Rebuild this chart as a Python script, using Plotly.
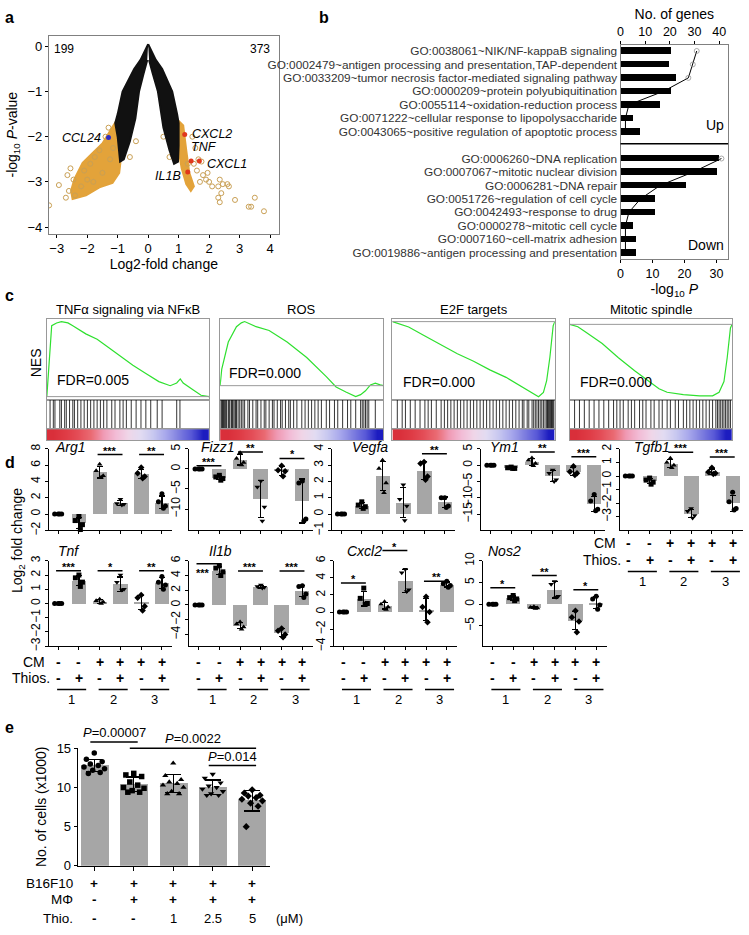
import numpy as np
import plotly.graph_objects as go

W, H = 749, 935
FONT = "Liberation Sans, Arial, sans-serif"

# ---------------- data: a (volcano) ----------------
black_left_x = [0.0, -0.25, -0.46, -0.84, -1.0, -1.08, -1.0, -0.95, -0.92, -0.8, -0.6, -0.42, -0.3, -0.15, -0.03]
black_left_y = [0.05, -0.3, -0.5, -1.0, -1.5, -1.7, -2.0, -2.3, -2.55, -2.5, -2.1, -1.6, -1.0, -0.6, -0.3]
black_right_x = [0.0, 0.25, 0.46, 0.79, 0.95, 1.0, 1.0, 0.98, 0.85, 0.7, 0.5, 0.32, 0.15, 0.03]
black_right_y = [0.05, -0.3, -0.5, -1.0, -1.5, -1.7, -2.2, -2.55, -2.6, -2.3, -1.8, -1.0, -0.6, -0.3]
orange_left_x = [-1.0, -1.5, -1.82, -2.15, -2.42, -2.53, -2.48, -2.04, -1.6, -1.17, -0.95, -0.9, -0.97]
orange_left_y = [-1.6, -2.15, -2.36, -2.58, -2.94, -3.2, -3.38, -3.3, -3.12, -3.02, -2.8, -2.51, -2.07]
orange_right_x = [0.95, 1.15, 1.25, 1.35, 1.5, 1.4, 1.25, 1.1, 1.0, 0.95]
orange_right_y = [-1.62, -1.75, -2.3, -2.8, -3.1, -3.2, -3.05, -2.7, -2.3, -2.0]
sparse_x = [-3.25, -2.93, -2.65, -2.55, -2.45, -2.6, -2.7, -2.4, -2.2, -2.0, -1.9, -1.75, -1.6, -1.4,
            -1.25, -1.5, -1.8, -2.1, -1.3, -1.15, -0.6, -0.4,
            1.45, 1.55, 1.65, 1.75, 1.5, 1.6, 1.8, 1.9, 2.0, 1.95, 2.1, 2.3, 2.35, 2.45, 2.6, 2.65,
            2.3, 2.35, 2.4, 2.85, 3.3, 3.38, 3.5, 3.8, 1.7, 1.3, 0.8, 0.5, 0.7]
sparse_y = [-3.52, -3.07, -2.85, -2.7, -2.95, -3.2, -3.35, -3.3, -3.1, -2.95, -2.6, -2.45, -2.3, -2.0,
            -2.5, -2.8, -3.0, -2.75, -1.8, -2.25, -2.45, -2.1,
            -2.0, -2.25, -2.5, -2.55, -2.6, -2.75, -2.85, -2.95, -3.0, -2.8, -3.1, -3.1, -2.95, -3.05, -3.05, -3.1,
            -3.35, -3.45, -3.25, -3.4, -3.55, -3.55, -3.35, -3.65, -3.0, -2.6, -2.4, -2.0, -2.45]
hl_names = ["CCL24", "CXCL2", "TNF", "CXCL1", "IL1B"]
hl_x = [-1.30, 1.20, 1.41, 1.68, 1.30]
hl_y = [-2.02, -1.95, -2.54, -2.54, -2.78]
hl_col = ["#2c2cc8", "#e0381c", "#e0381c", "#e0381c", "#e0381c"]

# ---------------- data: b (GO terms) ----------------
go_up = ["GO:0038061~NIK/NF-kappaB signaling",
         "GO:0002479~antigen processing and presentation,TAP-dependent",
         "GO:0033209~tumor necrosis factor-mediated signaling pathway",
         "GO:0000209~protein polyubiquitination",
         "GO:0055114~oxidation-reduction process",
         "GO:0071222~cellular response to lipopolysaccharide",
         "GO:0043065~positive regulation of apoptotic process"]
go_down = ["GO:0006260~DNA replication",
           "GO:0007067~mitotic nuclear division",
           "GO:0006281~DNA repair",
           "GO:0051726~regulation of cell cycle",
           "GO:0042493~response to drug",
           "GO:0000278~mitotic cell cycle",
           "GO:0007160~cell-matrix adhesion",
           "GO:0019886~antigen processing and presentation"]
logp_up = [15.7, 15.0, 17.3, 15.7, 12.1, 3.8, 6.0]
logp_down = [30.7, 30.0, 20.4, 10.5, 10.5, 3.8, 4.6, 4.6]
genes_up = [30.9, 29.3, 27.5, 17.4, 3.4, 2.0, 2.0]
genes_down = [40.9, 29.5, 16.1, 8.1, 3.4, 2.0, 2.0, 2.0]

# ---------------- data: c (GSEA) ----------------
gsea_titles = ["TNFα signaling via NFκB", "ROS", "E2F targets", "Mitotic spindle"]
gsea_fdr = ["FDR=0.005", "FDR=0.000", "FDR=0.000", "FDR=0.000"]
es1_x = [0, 0.01, 0.03, 0.06, 0.09, 0.13, 0.16, 0.24, 0.31, 0.38, 0.46, 0.53, 0.61, 0.69, 0.76, 0.8, 0.822, 0.84, 0.9, 0.95, 1.0]
es1_y = [0, 0.17, 0.52, 0.54, 0.55, 0.54, 0.52, 0.46, 0.42, 0.36, 0.29, 0.23, 0.17, 0.11, 0.08, 0.1, 0.13, 0.1, 0.05, 0.01, 0]
es2_x = [0, 0.01, 0.05, 0.1, 0.13, 0.15, 0.22, 0.3, 0.41, 0.53, 0.65, 0.71, 0.77, 0.83, 0.86, 0.89, 0.92, 0.95, 0.98, 1.0]
es2_y = [0, 0.13, 0.34, 0.46, 0.49, 0.5, 0.46, 0.43, 0.34, 0.22, 0.07, -0.01, -0.05, -0.085, -0.07, -0.04, 0.006, 0.02, 0.006, 0]
es3_x = [0, 0.1, 0.2, 0.3, 0.4, 0.5, 0.6, 0.7, 0.8, 0.85, 0.87, 0.9, 0.93, 0.95, 0.97, 0.99, 1.0]
es3_y = [0, -0.05, -0.135, -0.22, -0.3, -0.37, -0.45, -0.52, -0.61, -0.66, -0.68, -0.7, -0.66, -0.55, -0.33, -0.04, 0]
es4_x = [0, 0.05, 0.1, 0.2, 0.3, 0.4, 0.5, 0.55, 0.6, 0.7, 0.8, 0.88, 0.92, 0.95, 0.97, 0.99, 1.0]
es4_y = [0, -0.02, -0.066, -0.16, -0.28, -0.39, -0.49, -0.54, -0.57, -0.59, -0.6, -0.6, -0.57, -0.48, -0.28, -0.03, 0]
hits1 = [0.02, 0.04, 0.05, 0.08, 0.09, 0.11, 0.12, 0.14, 0.16, 0.17, 0.19, 0.21, 0.23, 0.25, 0.27, 0.29, 0.31,
         0.33, 0.35, 0.37, 0.4, 0.42, 0.45, 0.47, 0.49, 0.52, 0.55, 0.58, 0.61, 0.64, 0.68, 0.71, 0.8, 0.82]
hits2 = [0.005, 0.01, 0.015, 0.02, 0.025, 0.03, 0.035, 0.04, 0.05, 0.055, 0.06, 0.07, 0.075, 0.08, 0.09, 0.095,
         0.1, 0.11, 0.12, 0.13, 0.14, 0.15, 0.17, 0.18, 0.2, 0.22, 0.23, 0.25, 0.27, 0.28, 0.3, 0.32, 0.33, 0.35,
         0.37, 0.38, 0.4, 0.42, 0.43, 0.45, 0.47, 0.5, 0.52, 0.54, 0.56, 0.58, 0.6, 0.62, 0.65, 0.67, 0.7, 0.72,
         0.75, 0.78, 0.8, 0.83, 0.86, 0.87, 0.88, 0.89, 0.9, 0.91, 0.95]
hits3 = [0.03, 0.06, 0.08, 0.11, 0.14, 0.17, 0.2, 0.22, 0.24, 0.27, 0.3, 0.32, 0.34, 0.36, 0.38, 0.4, 0.42, 0.44,
         0.46, 0.48, 0.5, 0.52, 0.54, 0.56, 0.58, 0.6, 0.62, 0.64, 0.66, 0.68, 0.7, 0.72, 0.74, 0.76, 0.78, 0.8,
         0.81, 0.83, 0.84, 0.86, 0.87, 0.88, 0.89, 0.9, 0.91, 0.92, 0.93, 0.94, 0.95, 0.955, 0.96, 0.965, 0.97,
         0.975, 0.98, 0.985, 0.99, 0.995]
hits4 = [0.03, 0.06, 0.09, 0.12, 0.15, 0.18, 0.21, 0.24, 0.27, 0.29, 0.31, 0.33, 0.36, 0.38, 0.4, 0.43, 0.45,
         0.47, 0.5, 0.52, 0.55, 0.57, 0.6, 0.62, 0.65, 0.67, 0.7, 0.72, 0.74, 0.76, 0.78, 0.8, 0.82, 0.84, 0.86,
         0.88, 0.9, 0.91, 0.92, 0.93, 0.94, 0.95, 0.96, 0.97, 0.98, 0.99]
rank_colors = ["#d92f3a", "#df3b45", "#e44e58", "#ea6a72", "#f09ab4", "#f2bcd6", "#f0d6e8",
               "#e2dcf2", "#c8c8f0", "#a8a8ec", "#8080e0", "#5a5ad8", "#1c1cc0"]

# ---------------- data: d (qPCR, 4 replicates x 6 conditions) ----------------
arg1 = [[0, 0, 0, 0], [-0.3, -0.8, -1.3, -1.9], [6.1, 5.3, 4.7, 4.5], [1.8, 1.3, 1.2, 1.1], [5.7, 5.0, 4.6, 4.4], [2.5, 1.5, 1.0, 0.7]]
fizz1 = [[0, 0, 0, 0], [-1.6, -2.0, -2.4, -2.8], [4.0, 2.6, 1.6, 1.0], [-3.0, -4.5, -9.5, -13.0], [0.8, -0.3, -0.6, -1.8], [-3.0, -3.5, -12.5, -13.0]]
vegfa = [[0, 0, 0, 0], [0.75, 0.55, 0.45, 0.35], [3.3, 2.8, 1.9, 1.3], [1.8, 0.9, 0.5, -0.4], [3.2, 3.1, 2.3, 2.1], [1.0, 1.0, 0.5, 0.4]]
ym1 = [[0, 0, 0, 0], [-0.6, -0.8, -1.0, -1.0], [2.2, 1.5, 0.5, -0.2], [-1.5, -2.5, -4.5, -5.0], [-0.3, -2.0, -2.5, -3.0], [-9.0, -11.0, -13.5, -14.0]]
tgfb1 = [[0, 0, 0, 0], [-0.15, -0.3, -0.45, -0.6], [1.3, 1.0, 0.8, 0.6], [-2.4, -2.6, -2.9, -3.1], [0.6, 0.3, 0.2, 0.15], [-1.2, -1.9, -2.4, -2.5]]
tnf = [[0, 0, 0, 0], [2.0, 1.8, 1.5, 1.2], [0.3, 0.2, 0.1, 0.0], [2.0, 1.5, 1.0, 0.95], [0.6, 0.4, -0.2, -0.5], [1.9, 1.5, 1.3, 1.0]]
il1b = [[0, 0, 0, 0], [5.3, 5.0, 4.5, 4.0], [-2.3, -2.6, -3.0, -3.3], [2.7, 2.5, 2.4, 2.3], [-3.2, -3.5, -4.0, -4.4], [2.6, 2.5, 1.5, 1.0]]
cxcl2 = [[0, 0, 0, 0], [2.8, 1.6, 1.0, 0.9], [1.2, 0.9, 0.6, 0.3], [5.0, 4.6, 2.6, 2.4], [1.8, 0.6, 0.0, -1.2], [3.6, 3.3, 3.1, 2.9]]
nos2 = [[0, 0, 0, 0], [2.0, 1.5, 1.2, 0.8], [-0.6, -0.8, -0.9, -1.0], [5.2, 4.6, 1.8, 1.6], [-1.5, -3.0, -4.0, -6.5], [1.8, 1.2, -0.2, -1.2]]
# significance brackets: (group a, group b, height, stars)
arg1_sig = [(3, 4, 7.3, "***"), (5, 6, 7.3, "**")]
fizz1_sig = [(1, 2, 0.8, "***"), (3, 4, 4.2, "**"), (5, 6, 2.6, "*")]
vegfa_sig = [(5, 6, 3.7, "**")]
ym1_sig = [(3, 4, 4.0, "**"), (5, 6, 2.6, "***")]
tgfb1_sig = [(3, 4, 1.75, "***"), (5, 6, 1.4, "***")]
tnf_sig = [(1, 2, 2.3, "***"), (3, 4, 2.3, "*"), (5, 6, 2.3, "**")]
il1b_sig = [(1, 2, 5.6, "***"), (3, 4, 4.6, "***"), (5, 6, 4.6, "***")]
cxcl2_sig = [(1, 2, 3.4, "*"), (3, 4, 7.2, "*"), (5, 6, 3.6, "**")]
nos2_sig = [(1, 2, 3.8, "*"), (3, 4, 6.6, "**"), (5, 6, 3.3, "*")]
cm_signs = ["-", "-", "+", "+", "+", "+"]
thios_signs = ["-", "+", "-", "+", "-", "+"]
pair_labels = ["1", "2", "3"]

# ---------------- data: e (cell counts) ----------------
e_pts = [[14.4, 13.6, 13.3, 13.0, 12.8, 12.6, 12.4, 12.2, 11.9, 11.8],
         [11.8, 11.6, 11.4, 10.7, 10.3, 10.0, 9.9, 9.6, 9.4, 9.4],
         [13.1, 11.5, 11.0, 10.7, 10.5, 10.3, 10.0, 9.5, 9.2, 9.2],
         [11.7, 11.2, 10.6, 10.2, 10.0, 9.8, 9.5, 9.2, 9.0, 9.0],
         [9.7, 9.3, 9.0, 8.9, 8.7, 8.5, 8.3, 8.0, 7.6, 5.0]]
e_b16 = ["+", "+", "+", "+", "+"]
e_mphi = ["-", "+", "+", "+", "+"]
e_thio = ["-", "-", "1", "2.5", "5"]
e_pvals = [(1, 2, 15.8, "<i>P</i>=0.00007"), (2, 5, 15.0, "<i>P</i>=0.0022"), (4, 5, 12.8, "<i>P</i>=0.014")]

# =====================================================================
fig = go.Figure()
L = {}
ann = []
shp = []
cnt = [0]


def P(x):
    return x / W


def Q(y):
    return 1 - y / H


def axes(xd, yd, xk, yk):
    cnt[0] += 1
    s = "" if cnt[0] == 1 else str(cnt[0])
    L["xaxis" + s] = dict(domain=[P(xd[0]), P(xd[1])], anchor="y" + s, **xk)
    L["yaxis" + s] = dict(domain=[Q(yd[1]), Q(yd[0])], anchor="x" + s, **yk)
    return "x" + s, "y" + s


def yfrac(v, rows, yr):
    # paper y for a value on a y axis laid out over pixel rows (for brackets drawn above the range)
    top, bot = rows
    return Q(bot - (v - yr[0]) / (yr[1] - yr[0]) * (bot - top))


def st(**kw):
    d = dict(showgrid=False, zeroline=False, showline=True, linecolor="black", linewidth=1,
             ticks="outside", ticklen=3, tickcolor="black",
             tickfont=dict(size=12, family=FONT, color="black"))
    d.update(kw)
    return d


def blank(**kw):
    d = dict(showgrid=False, zeroline=False, showline=True, linecolor="#999999", linewidth=1,
             mirror=True, ticks="", showticklabels=False)
    d.update(kw)
    return d


def txt(x, y, t, size=12, xref="paper", yref="paper", **kw):
    a = dict(x=x, y=y, text=t, xref=xref, yref=yref, showarrow=False, xanchor="center", yanchor="middle",
             font=dict(size=size, family=FONT, color=kw.pop("color", "black")))
    a.update(kw)
    ann.append(a)


# panel letters
for lab, px, py in [("a", 7, 9), ("b", 322, 9), ("c", 7, 292), ("d", 7, 462), ("e", 7, 732)]:
    txt(P(px), Q(py), "<b>%s</b>" % lab, size=16)

# ---------------- a ----------------
xa, ya = axes((46, 277), (27, 229),
              st(range=[-3.26, 4.29], tickvals=list(range(-3, 5)), mirror=True, linecolor="#808080",
                 tickfont=dict(size=13, family=FONT), title=dict(text="Log2-fold change", font=dict(size=14), standoff=2)),
              st(range=[-4.15, 0.24], tickvals=[0, -1, -2, -3, -4], mirror=True, linecolor="#808080",
                 tickfont=dict(size=13, family=FONT),
                 title=dict(text="-log<sub>10</sub> <i>P</i>-value", font=dict(size=14), standoff=6)))
for xs, ys in [(orange_left_x, orange_left_y), (orange_right_x, orange_right_y)]:
    fig.add_trace(go.Scatter(x=xs, y=ys, fill="toself", mode="lines", line=dict(color="#e3a33a", width=2),
                             fillcolor="#e3a33a", xaxis=xa, yaxis=ya, hoverinfo="skip"))
fig.add_trace(go.Scatter(x=sparse_x, y=sparse_y, mode="markers", xaxis=xa, yaxis=ya,
                         marker=dict(symbol="circle-open", size=5, color="#c9a055", line=dict(width=1))))
for xs, ys in [(black_left_x, black_left_y), (black_right_x, black_right_y)]:
    fig.add_trace(go.Scatter(x=xs, y=ys, fill="toself", mode="lines", line=dict(color="#111111", width=2),
                             fillcolor="#111111", xaxis=xa, yaxis=ya, hoverinfo="skip"))
fig.add_trace(go.Scatter(x=hl_x, y=hl_y, mode="markers", xaxis=xa, yaxis=ya,
                         marker=dict(size=5, color=hl_col)))
lab_pos = {"CCL24": ("right", -6, 0), "CXCL2": ("left", 5, 0), "TNF": ("left", -2, 14),
           "CXCL1": ("left", 6, -3), "IL1B": ("right", -5, -4)}
for n, x, y in zip(hl_names, hl_x, hl_y):
    anc, dx, dy = lab_pos[n]
    txt(x, y, "<i>%s</i>" % n, size=12.5, xref=xa, yref=ya, xanchor=anc, xshift=dx, yshift=dy)
txt(-2.75, -0.06, "199", size=12, xref=xa, yref=ya)
txt(3.67, -0.06, "373", size=12, xref=xa, yref=ya)

# ---------------- b ----------------
rows_up = list(range(len(go_up)))
rows_down = [len(go_up) + 1 + i for i in range(len(go_down))]
xb, yb = axes((620, 728), (37, 255),
              st(range=[0, 33.6], tickvals=[0, 10, 20, 30], linecolor="#808080",
                 tickfont=dict(size=12.5, family=FONT),
                 title=dict(text="-log<sub>10</sub> <i>P</i>", font=dict(size=14), standoff=2)),
              st(range=[15.5, -0.42], tickvals=rows_up + rows_down, ticktext=go_up + go_down, ticks="",
                 mirror=True, linecolor="#808080", tickfont=dict(size=11.8, family=FONT, color="#333333")))
cnt[0] += 1
xb_top = "x%d" % cnt[0]
L["xaxis%d" % cnt[0]] = st(overlaying=xb, side="top", anchor=yb, range=[0, 43.6], tickvals=[0, 10, 20, 30, 40],
                           linecolor="#808080", tickfont=dict(size=12.5, family=FONT),
                           title=dict(text="No. of genes", font=dict(size=14), standoff=2))
fig.add_trace(go.Bar(x=logp_up + logp_down, y=rows_up + rows_down, orientation="h", width=0.48,
                     marker=dict(color="black", line=dict(width=0)), xaxis=xb, yaxis=yb))
for gv, pv, rv in [(genes_up, logp_up, rows_up), (genes_down, logp_down, rows_down)]:
    msz = [5 if g / 43.6 > p / 33.6 else 0 for g, p in zip(gv, pv)]
    fig.add_trace(go.Scatter(x=gv, y=rv, mode="lines+markers", xaxis=xb_top, yaxis=yb,
                             line=dict(color="black", width=1),
                             marker=dict(symbol="circle-open", size=msz, color="#888888",
                                         line=dict(width=1, color="#888888"))))
shp.append(dict(type="line", xref=xb + " domain", yref=yb, x0=0, x1=1, y0=6.9, y1=6.9,
                line=dict(color="black", width=1.5)))
txt(33, 5.5, "Up", size=14, xref=xb, yref=yb, xanchor="right")
txt(33, 14.4, "Down", size=14, xref=xb, yref=yb, xanchor="right")

# ---------------- c ----------------
boxes = [(44, 207), (218, 382), (391, 554), (569, 732)]
es_x = [es1_x, es2_x, es3_x, es4_x]
es_y = [es1_y, es2_y, es3_y, es4_y]
hits = [hits1, hits2, hits3, hits4]
es_ranges = [[-0.023, 0.567], [-0.11, 0.518], [-0.729, 0.022], [-0.633, 0.043]]
fdr_pos = [(0.05, 0.25), (0.04, 0.33), (0.05, 0.22), (0.05, 0.22)]
for i, (bx0, bx1) in enumerate(boxes):
    xc, yc = axes((bx0, bx1), (316, 398), blank(range=[0, 1]), blank(range=es_ranges[i]))
    fig.add_trace(go.Scatter(x=es_x[i], y=es_y[i], mode="lines", line=dict(color="#2fe02f", width=1.2),
                             xaxis=xc, yaxis=yc))
    shp.append(dict(type="line", xref=xc + " domain", yref=yc, x0=0, x1=1, y0=0, y1=0,
                    line=dict(color="#999999", width=1)))
    txt(fdr_pos[i][0], fdr_pos[i][1], gsea_fdr[i], size=14, xref=xc + " domain", yref=yc + " domain",
        xanchor="left")
    txt(P((bx0 + bx1) / 2), Q(306), gsea_titles[i], size=13)
    xh, yh = axes((bx0, bx1), (398, 428), blank(range=[0, 1]), blank(range=[0, 1]))
    hx, hy = [], []
    for p in hits[i]:
        hx += [p, p, None]
        hy += [0, 1, None]
    fig.add_trace(go.Scatter(x=hx, y=hy, mode="lines", line=dict(color="black", width=0.8),
                             xaxis=xh, yaxis=yh, hoverinfo="skip"))
    xk, yk = axes((bx0, bx1), (428, 439), blank(range=[-0.5, len(rank_colors) - 0.5]), blank(range=[-0.5, 0.5]))
    nc = len(rank_colors)
    fig.add_trace(go.Heatmap(z=[list(range(nc))], xaxis=xk, yaxis=yk, showscale=False, zsmooth="best",
                             colorscale=[[j / (nc - 1), c] for j, c in enumerate(rank_colors)], hoverinfo="skip"))
txt(P(34), Q(360), "NES", size=14, textangle=-90)

# ---------------- d ----------------
symbols = ["circle", "square", "triangle-up", "triangle-down", "diamond", "circle"]
offs = [0.0, -0.17, 0.17, 0.07]
top_row, bot_row = (448, 531), (562, 649)
charts = [
    ("Arg1", arg1, arg1_sig, [-2, 8], [-2, 0, 2, 4, 6, 8], 46, top_row, 0.03, False),
    ("Fizz1", fizz1, fizz1_sig, [-15.3, 5], [-10, -5, 0, 5], 187, top_row, 0.08, False),
    ("Vegfa", vegfa, vegfa_sig, [-1, 4], [-1, 0, 1, 2, 3, 4], 330, top_row, 0.15, False),
    ("Ym1", ym1, ym1_sig, [-20, 5], [-15, -10, -5, 0, 5], 480, top_row, 0.06, False),
    ("Tgfb1", tgfb1, tgfb1_sig, [-4, 2], [-3, -2, -1, 0, 1, 2], 619, top_row, 0.1, True),
    ("Tnf", tnf, tnf_sig, [-3, 3], [-3, -2, -1, 0, 1, 2, 3], 46, bot_row, 0.06, True),
    ("Il1b", il1b, il1b_sig, [-5.6, 6], [-4, -2, 0, 2, 4, 6], 187, bot_row, 0.145, True),
    ("Cxcl2", cxcl2, cxcl2_sig, [-4, 6], [-4, -2, 0, 2, 4, 6], 332, bot_row, 0.09, True),
    ("Nos2", nos2, nos2_sig, [-9.7, 10], [-10, -5, 0, 5, 10], 482, bot_row, 0.02, True),
]
grp = [1, 2, 3, 4, 5, 6]
for name, data, sig, yr, tv, ax_px, row, tpos, table in charts:
    xd, yd = axes((ax_px, ax_px + 124), row,
                  st(range=[0.55, 6.5], tickvals=grp, showticklabels=False, ticklen=3),
                  st(range=yr, tickvals=tv, tickangle=-90, tickfont=dict(size=12, family=FONT)))
    means = [np.mean(g) for g in data]
    sds = [np.std(g, ddof=1) for g in data]
    fig.add_trace(go.Bar(x=grp, y=means, width=0.7, marker=dict(color="#a6a6a6", line=dict(width=0)),
                         error_y=dict(type="data", array=sds, color="black", thickness=1.2, width=3),
                         xaxis=xd, yaxis=yd))
    for gi, g in enumerate(data):
        fig.add_trace(go.Scatter(x=[grp[gi] + o for o in offs], y=g, mode="markers", xaxis=xd, yaxis=yd,
                                 marker=dict(symbol=symbols[gi], size=5, color="black"), cliponaxis=False))
    for a, b, h, s in sig:
        yy = yfrac(h, row, yr)
        shp.append(dict(type="line", xref=xd, yref="paper", x0=a - 0.1, x1=b + 0.1, y0=yy, y1=yy,
                        line=dict(color="black", width=1.5)))
        if name == "Il1b" and a == 1:
            # stars sit left of and below this bracket in the original
            txt(a + 0.2, yy, "<b>%s</b>" % s, size=11, xref=xd, yanchor="top", yshift=-1)
        else:
            txt((a + b) / 2, yy, "<b>%s</b>" % s, size=11, xref=xd, yanchor="bottom", yshift=-4)
    title_y = 446 if row == top_row else 552
    txt(tpos, Q(title_y), "<i>%s</i>" % name, size=14, xref=xd + " domain", xanchor="left")
    if table:
        ty = [665, 681.5, 693, 703] if row == bot_row else [544, 561, 573, 583]
        for gi in range(6):
            txt(grp[gi], Q(ty[0]), "<b>%s</b>" % cm_signs[gi], size=14, xref=xd)
            txt(grp[gi], Q(ty[1]), "<b>%s</b>" % thios_signs[gi], size=14, xref=xd)
        for k in range(3):
            x0, x1 = grp[2 * k] - 0.05, grp[2 * k + 1] + 0.35
            shp.append(dict(type="line", xref=xd, yref="paper", x0=x0, x1=x1, y0=Q(ty[2]), y1=Q(ty[2]),
                            line=dict(color="black", width=1.5)))
            txt((x0 + x1) / 2, Q(ty[3]), pair_labels[k], size=13, xref=xd)
        if name in ("Tnf", "Tgfb1"):
            txt(P(ax_px - 2), Q(ty[0]), "CM", size=14, xanchor="right")
            txt(P(ax_px + 3), Q(ty[1]), "Thios.", size=14, xanchor="right")
txt(P(15), Q(541), "Log<sub>2</sub> fold change", size=14, textangle=-90)

# ---------------- e ----------------
e_rows = (753, 872.7)
e_yr = [0, 15]
xe, ye = axes((75, 268), e_rows,
              st(range=[0.58, 5.45], tickvals=[1, 2, 3, 4, 5], showticklabels=False, ticklen=4),
              st(range=e_yr, tickvals=[0, 5, 10, 15], tickfont=dict(size=13, family=FONT)))
egrp = [1, 2, 3, 4, 5]
e_offs = [0.0, -0.2, 0.2, -0.1, 0.1, -0.26, 0.26, -0.04, 0.15, -0.15]
fig.add_trace(go.Bar(x=egrp, y=[np.mean(g) for g in e_pts], width=0.71,
                     marker=dict(color="#a6a6a6", line=dict(width=0)),
                     error_y=dict(type="data", array=[np.std(g, ddof=1) for g in e_pts], color="black",
                                  thickness=1.2, width=8),
                     xaxis=xe, yaxis=ye))
for gi, g in enumerate(e_pts):
    fig.add_trace(go.Scatter(x=[egrp[gi] + o for o in e_offs], y=g, mode="markers", xaxis=xe, yaxis=ye,
                             marker=dict(symbol=symbols[gi], size=5.5, color="black"), cliponaxis=False))
for a, b, h, s in e_pvals:
    yy = yfrac(h, e_rows, e_yr)
    shp.append(dict(type="line", xref=xe, yref="paper", x0=a - 0.1, x1=b + 0.1, y0=yy, y1=yy,
                    line=dict(color="black", width=1.5)))
    txt((a + b) / 2, yy, s, size=13, xref=xe, yanchor="bottom", yshift=0)
txt(P(38), Q(812), "No. of cells (x1000)", size=14, textangle=-90)
for label, vals, py in [("B16F10", e_b16, 890.7), ("MΦ", e_mphi, 907), ("Thio.", e_thio, 926)]:
    txt(P(72), Q(py), label, size=13.5, xanchor="right")
    for gi, v in enumerate(vals):
        txt(egrp[gi], Q(py), "<b>%s</b>" % v if v in "+-" else v, size=13.5 if v in "+-" else 13, xref=xe)
txt(P(272), Q(926), "(μM)", size=13, xanchor="left")

fig.update_layout(**L)
fig.update_layout(width=W, height=H, margin=dict(l=0, r=0, t=0, b=0), showlegend=False,
                  plot_bgcolor="white", paper_bgcolor="white", annotations=ann, shapes=shp,
                  font=dict(family=FONT, color="black"), bargap=0)
# drop the browser's default body margin so the figure sits at the window's corner
fig.write_html("out.html", config={"displayModeBar": False},
               post_script="document.body.style.margin='0';")
